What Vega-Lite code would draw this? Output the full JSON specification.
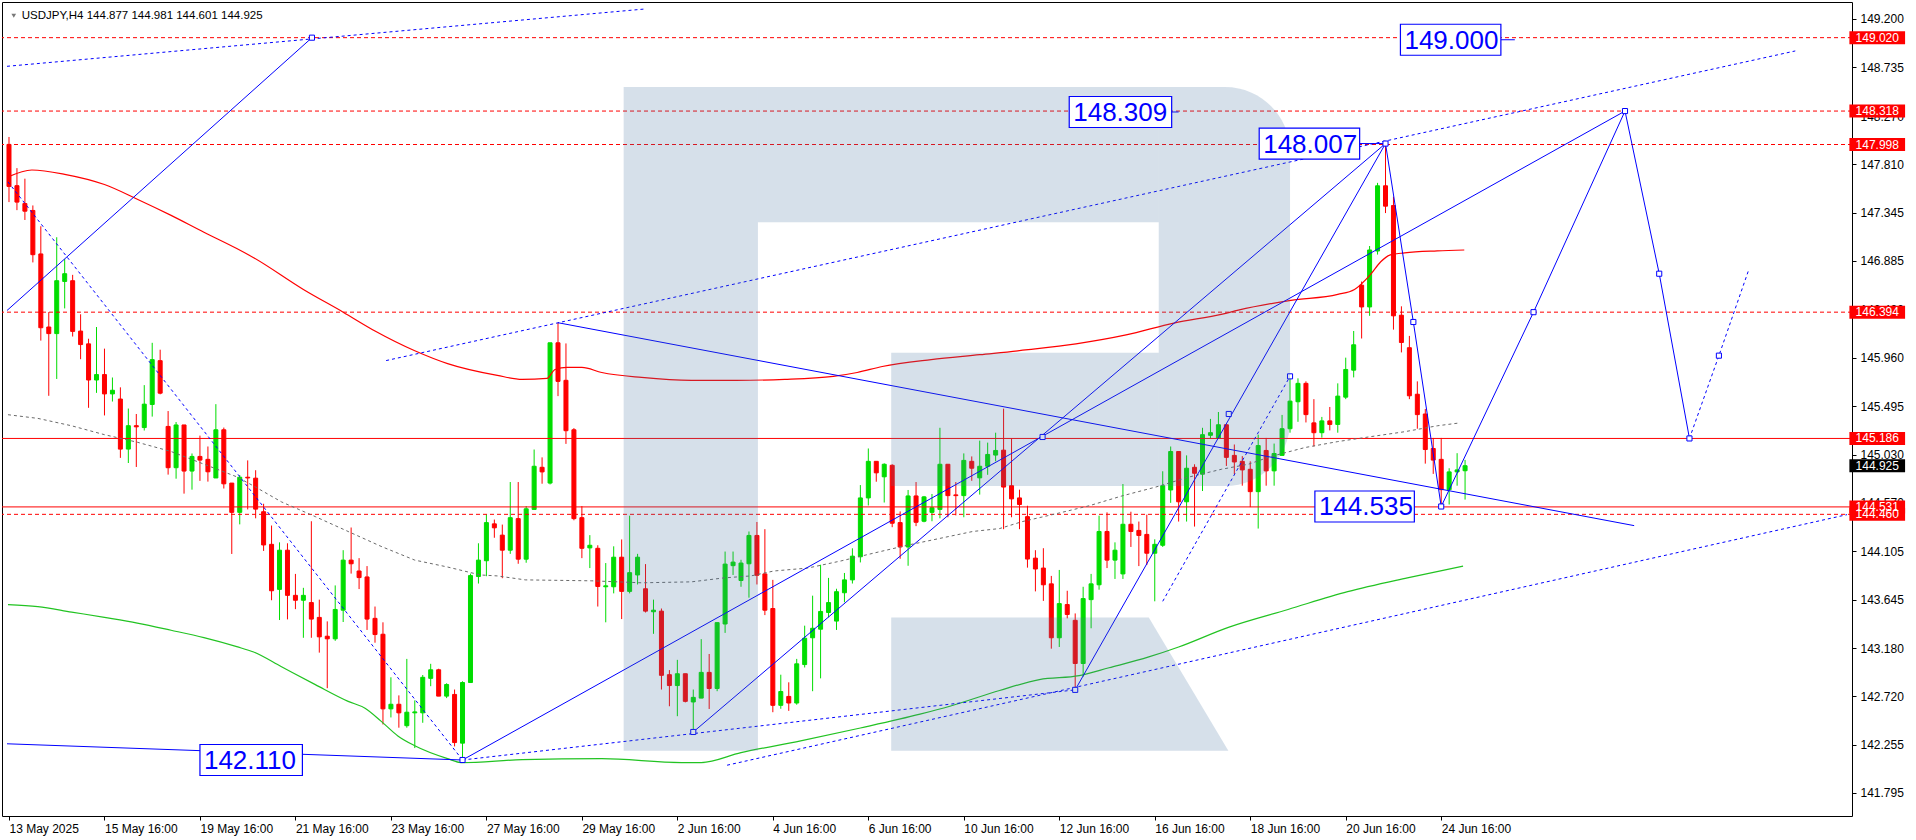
{
"$schema":"https://vega.github.io/schema/vega-lite/v6.json",
"width":1850,"height":814,
"autosize":{"type":"none"},
"padding":{"left":2,"top":2,"right":64,"bottom":24},
"background":"white",
"config":{"view":{"stroke":"#000000","strokeWidth":1},"font":"Liberation Sans",
"axis":{"grid":false,"domain":false,"ticks":true,"tickSize":4,"tickColor":"#000000","labelColor":"#000000","labelFont":"Liberation Sans","labelFontSize":12,"labelOverlap":false,"labelFlush":false,"labelBound":false}},
"datasets":{
"c":[
{"t":0,"o":147.999,"h":148.07,"l":147.447,"c":147.597},
{"t":1,"o":147.604,"h":147.772,"l":147.37,"c":147.447},
{"t":2,"o":147.433,"h":147.671,"l":147.276,"c":147.36},
{"t":3,"o":147.367,"h":147.415,"l":146.87,"c":146.944},
{"t":4,"o":146.951,"h":147.216,"l":146.122,"c":146.245},
{"t":5,"o":146.252,"h":146.395,"l":145.594,"c":146.189},
{"t":6,"o":146.189,"h":147.111,"l":145.755,"c":146.695},
{"t":7,"o":146.688,"h":146.902,"l":146.43,"c":146.762},
{"t":8,"o":146.695,"h":146.751,"l":146.161,"c":146.21},
{"t":9,"o":146.213,"h":146.374,"l":145.944,"c":146.084},
{"t":10,"o":146.091,"h":146.14,"l":145.479,"c":145.745},
{"t":11,"o":145.745,"h":146.252,"l":145.622,"c":145.797},
{"t":12,"o":145.797,"h":146.045,"l":145.406,"c":145.612},
{"t":13,"o":145.612,"h":145.769,"l":145.539,"c":145.647},
{"t":14,"o":145.563,"h":145.675,"l":145.0,"c":145.084},
{"t":15,"o":145.084,"h":145.472,"l":144.951,"c":145.308},
{"t":16,"o":145.308,"h":145.42,"l":144.913,"c":145.297},
{"t":17,"o":145.29,"h":145.696,"l":145.262,"c":145.514},
{"t":18,"o":145.511,"h":146.101,"l":145.395,"c":145.94},
{"t":19,"o":145.93,"h":146.035,"l":145.608,"c":145.619},
{"t":20,"o":145.301,"h":145.448,"l":144.84,"c":144.906},
{"t":21,"o":144.906,"h":145.343,"l":144.801,"c":145.315},
{"t":22,"o":145.315,"h":145.315,"l":144.658,"c":144.874},
{"t":23,"o":144.874,"h":145.042,"l":144.696,"c":145.014},
{"t":24,"o":145.014,"h":145.213,"l":144.78,"c":144.979},
{"t":25,"o":144.986,"h":145.109,"l":144.773,"c":144.867},
{"t":26,"o":144.808,"h":145.514,"l":144.808,"c":145.269},
{"t":27,"o":145.269,"h":145.29,"l":144.707,"c":144.752},
{"t":28,"o":144.759,"h":144.759,"l":144.081,"c":144.479},
{"t":29,"o":144.479,"h":144.836,"l":144.364,"c":144.815},
{"t":30,"o":144.815,"h":144.976,"l":144.507,"c":144.808},
{"t":31,"o":144.806,"h":144.882,"l":144.422,"c":144.51},
{"t":32,"o":144.485,"h":144.561,"l":144.11,"c":144.167},
{"t":33,"o":144.173,"h":144.353,"l":143.638,"c":143.729},
{"t":34,"o":143.742,"h":144.192,"l":143.449,"c":144.117},
{"t":35,"o":144.117,"h":144.183,"l":143.455,"c":143.685},
{"t":36,"o":143.685,"h":143.89,"l":143.553,"c":143.638},
{"t":37,"o":143.638,"h":143.757,"l":143.279,"c":143.685},
{"t":38,"o":143.616,"h":144.394,"l":143.279,"c":143.458},
{"t":39,"o":143.474,"h":143.644,"l":143.137,"c":143.288},
{"t":40,"o":143.294,"h":143.436,"l":142.797,"c":143.269},
{"t":41,"o":143.269,"h":143.78,"l":143.25,"c":143.55},
{"t":42,"o":143.543,"h":144.117,"l":143.43,"c":144.022},
{"t":43,"o":144.022,"h":144.334,"l":143.893,"c":143.987},
{"t":44,"o":143.918,"h":144.041,"l":143.745,"c":143.855},
{"t":45,"o":143.861,"h":143.965,"l":143.354,"c":143.458},
{"t":46,"o":143.465,"h":143.578,"l":143.232,"c":143.31},
{"t":47,"o":143.313,"h":143.427,"l":142.45,"c":142.599},
{"t":48,"o":142.599,"h":142.901,"l":142.517,"c":142.643},
{"t":49,"o":142.643,"h":142.728,"l":142.419,"c":142.561},
{"t":50,"o":142.438,"h":143.077,"l":142.419,"c":142.567},
{"t":51,"o":142.561,"h":142.68,"l":142.224,"c":142.57},
{"t":52,"o":142.561,"h":142.923,"l":142.466,"c":142.901},
{"t":53,"o":142.891,"h":143.03,"l":142.816,"c":142.973},
{"t":54,"o":142.973,"h":142.983,"l":142.721,"c":142.721},
{"t":55,"o":142.721,"h":142.844,"l":142.702,"c":142.832},
{"t":56,"o":142.737,"h":142.784,"l":142.24,"c":142.277},
{"t":57,"o":142.271,"h":142.863,"l":142.11,"c":142.851},
{"t":58,"o":142.851,"h":143.893,"l":142.851,"c":143.874},
{"t":59,"o":143.865,"h":144.183,"l":143.798,"c":144.022},
{"t":60,"o":144.016,"h":144.46,"l":143.868,"c":144.381},
{"t":61,"o":144.369,"h":144.41,"l":144.236,"c":144.331},
{"t":62,"o":144.261,"h":144.362,"l":143.849,"c":144.117},
{"t":63,"o":144.117,"h":144.769,"l":144.082,"c":144.428},
{"t":64,"o":144.419,"h":144.769,"l":143.987,"c":144.031},
{"t":65,"o":144.031,"h":144.539,"l":143.997,"c":144.513},
{"t":66,"o":144.507,"h":145.08,"l":144.507,"c":144.92},
{"t":67,"o":144.91,"h":145.005,"l":144.753,"c":144.866},
{"t":68,"o":144.759,"h":146.101,"l":144.746,"c":146.101},
{"t":69,"o":146.101,"h":146.293,"l":145.591,"c":145.732},
{"t":70,"o":145.742,"h":146.095,"l":145.134,"c":145.26},
{"t":71,"o":145.269,"h":145.285,"l":144.403,"c":144.419},
{"t":72,"o":144.428,"h":144.539,"l":144.041,"c":144.135},
{"t":73,"o":144.139,"h":144.261,"l":143.946,"c":144.164},
{"t":74,"o":144.135,"h":144.164,"l":143.578,"c":143.77},
{"t":75,"o":143.767,"h":143.994,"l":143.427,"c":143.776},
{"t":76,"o":143.767,"h":144.154,"l":143.704,"c":144.05},
{"t":77,"o":144.05,"h":144.22,"l":143.458,"c":143.723},
{"t":78,"o":143.723,"h":144.447,"l":143.704,"c":143.902},
{"t":79,"o":143.88,"h":144.082,"l":143.789,"c":144.05},
{"t":80,"o":143.748,"h":143.984,"l":143.521,"c":143.534},
{"t":81,"o":143.528,"h":143.644,"l":143.317,"c":143.543},
{"t":82,"o":143.534,"h":143.559,"l":142.784,"c":142.92},
{"t":83,"o":142.926,"h":142.97,"l":142.624,"c":142.822},
{"t":84,"o":142.822,"h":143.068,"l":142.529,"c":142.935},
{"t":85,"o":142.935,"h":142.935,"l":142.661,"c":142.671},
{"t":86,"o":142.665,"h":142.784,"l":142.378,"c":142.709},
{"t":87,"o":142.702,"h":143.266,"l":142.702,"c":142.948},
{"t":88,"o":142.948,"h":143.124,"l":142.598,"c":142.794},
{"t":89,"o":142.794,"h":143.424,"l":142.768,"c":143.424},
{"t":90,"o":143.411,"h":144.104,"l":143.326,"c":143.984},
{"t":91,"o":143.969,"h":144.104,"l":143.88,"c":144.003},
{"t":92,"o":143.827,"h":144.025,"l":143.767,"c":143.994},
{"t":93,"o":143.987,"h":144.296,"l":143.663,"c":144.258},
{"t":94,"o":144.258,"h":144.387,"l":143.789,"c":143.877},
{"t":95,"o":143.89,"h":144.318,"l":143.496,"c":143.543},
{"t":96,"o":143.559,"h":143.833,"l":142.567,"c":142.633},
{"t":97,"o":142.633,"h":142.926,"l":142.6,"c":142.765},
{"t":98,"o":142.718,"h":142.853,"l":142.58,"c":142.655},
{"t":99,"o":142.655,"h":143.077,"l":142.639,"c":143.03},
{"t":100,"o":143.023,"h":143.395,"l":142.995,"c":143.275},
{"t":101,"o":143.279,"h":143.682,"l":142.768,"c":143.37},
{"t":102,"o":143.361,"h":143.978,"l":142.891,"c":143.531},
{"t":103,"o":143.521,"h":143.852,"l":143.474,"c":143.616},
{"t":104,"o":143.439,"h":143.748,"l":143.354,"c":143.72},
{"t":105,"o":143.71,"h":143.899,"l":143.619,"c":143.833},
{"t":106,"o":143.833,"h":144.135,"l":143.798,"c":144.06},
{"t":107,"o":144.054,"h":144.74,"l":144.0,"c":144.617},
{"t":108,"o":144.617,"h":145.09,"l":144.545,"c":144.967},
{"t":109,"o":144.967,"h":144.967,"l":144.772,"c":144.857},
{"t":110,"o":144.819,"h":144.948,"l":144.573,"c":144.939},
{"t":111,"o":144.929,"h":144.939,"l":144.337,"c":144.375},
{"t":112,"o":144.381,"h":144.488,"l":144.035,"c":144.148},
{"t":113,"o":144.148,"h":144.693,"l":143.968,"c":144.636},
{"t":114,"o":144.636,"h":144.769,"l":144.347,"c":144.384},
{"t":115,"o":144.394,"h":144.636,"l":144.384,"c":144.627},
{"t":116,"o":144.479,"h":144.655,"l":144.394,"c":144.523},
{"t":117,"o":144.507,"h":145.288,"l":144.422,"c":144.939},
{"t":118,"o":144.939,"h":144.939,"l":144.432,"c":144.639},
{"t":119,"o":144.646,"h":144.769,"l":144.45,"c":144.639},
{"t":120,"o":144.639,"h":145.043,"l":144.432,"c":144.976},
{"t":121,"o":144.967,"h":145.014,"l":144.781,"c":144.901},
{"t":122,"o":144.809,"h":145.165,"l":144.649,"c":144.92},
{"t":123,"o":144.92,"h":145.146,"l":144.838,"c":145.033},
{"t":124,"o":145.027,"h":145.241,"l":144.967,"c":145.071},
{"t":125,"o":145.074,"h":145.471,"l":144.318,"c":144.721},
{"t":126,"o":144.734,"h":145.187,"l":144.432,"c":144.608},
{"t":127,"o":144.617,"h":144.696,"l":144.318,"c":144.554},
{"t":128,"o":144.438,"h":144.542,"l":143.95,"c":144.032},
{"t":129,"o":144.041,"h":144.117,"l":143.723,"c":143.937},
{"t":130,"o":143.946,"h":144.136,"l":143.632,"c":143.786},
{"t":131,"o":143.795,"h":143.871,"l":143.175,"c":143.279},
{"t":132,"o":143.279,"h":143.928,"l":143.191,"c":143.606},
{"t":133,"o":143.597,"h":143.729,"l":143.465,"c":143.502},
{"t":134,"o":143.446,"h":143.512,"l":142.781,"c":143.033},
{"t":135,"o":143.033,"h":143.767,"l":142.907,"c":143.654},
{"t":136,"o":143.644,"h":143.89,"l":143.37,"c":143.795},
{"t":137,"o":143.786,"h":144.447,"l":143.739,"c":144.296},
{"t":138,"o":144.296,"h":144.479,"l":143.946,"c":144.022},
{"t":139,"o":144.022,"h":144.192,"l":143.842,"c":144.117},
{"t":140,"o":143.89,"h":144.75,"l":143.842,"c":144.365},
{"t":141,"o":144.365,"h":144.485,"l":144.148,"c":144.296},
{"t":142,"o":144.306,"h":144.391,"l":143.965,"c":144.258},
{"t":143,"o":144.268,"h":144.457,"l":143.975,"c":144.088},
{"t":144,"o":144.088,"h":144.221,"l":143.628,"c":144.173},
{"t":145,"o":144.164,"h":144.872,"l":144.148,"c":144.734},
{"t":146,"o":144.693,"h":145.109,"l":144.57,"c":145.061},
{"t":147,"o":145.061,"h":145.061,"l":144.391,"c":144.58},
{"t":148,"o":144.58,"h":145.024,"l":144.391,"c":144.901},
{"t":149,"o":144.91,"h":144.939,"l":144.343,"c":144.853},
{"t":150,"o":144.844,"h":145.288,"l":144.683,"c":145.222},
{"t":151,"o":145.216,"h":145.373,"l":145.184,"c":145.241},
{"t":152,"o":145.187,"h":145.439,"l":145.187,"c":145.317},
{"t":153,"o":145.317,"h":145.317,"l":144.923,"c":145.005},
{"t":154,"o":145.024,"h":145.128,"l":144.844,"c":144.961},
{"t":155,"o":144.967,"h":145.017,"l":144.734,"c":144.885},
{"t":156,"o":144.891,"h":144.967,"l":144.529,"c":144.677},
{"t":157,"o":144.677,"h":145.222,"l":144.324,"c":145.118},
{"t":158,"o":145.071,"h":145.191,"l":144.734,"c":144.876},
{"t":159,"o":144.876,"h":145.137,"l":144.734,"c":145.042},
{"t":160,"o":145.024,"h":145.411,"l":145.024,"c":145.279},
{"t":161,"o":145.279,"h":145.78,"l":145.241,"c":145.543},
{"t":162,"o":145.537,"h":145.761,"l":145.345,"c":145.713},
{"t":163,"o":145.713,"h":145.732,"l":145.339,"c":145.414},
{"t":164,"o":145.335,"h":145.562,"l":145.109,"c":145.241},
{"t":165,"o":145.241,"h":145.392,"l":145.194,"c":145.354},
{"t":166,"o":145.354,"h":145.487,"l":145.263,"c":145.32},
{"t":167,"o":145.32,"h":145.713,"l":145.241,"c":145.591},
{"t":168,"o":145.581,"h":145.959,"l":145.562,"c":145.846},
{"t":169,"o":145.839,"h":146.214,"l":145.77,"c":146.082},
{"t":170,"o":146.652,"h":146.687,"l":146.142,"c":146.444},
{"t":171,"o":146.444,"h":147.027,"l":146.359,"c":146.989},
{"t":172,"o":146.979,"h":147.631,"l":146.945,"c":147.603},
{"t":173,"o":147.603,"h":148.007,"l":147.342,"c":147.408},
{"t":174,"o":147.414,"h":147.499,"l":146.227,"c":146.359},
{"t":175,"o":146.365,"h":146.45,"l":146.009,"c":146.104},
{"t":176,"o":146.054,"h":146.167,"l":145.562,"c":145.594},
{"t":177,"o":145.609,"h":145.732,"l":145.279,"c":145.414},
{"t":178,"o":145.42,"h":145.468,"l":144.945,"c":145.08},
{"t":179,"o":145.09,"h":145.191,"l":144.847,"c":144.979},
{"t":180,"o":144.986,"h":145.191,"l":144.535,"c":144.696},
{"t":181,"o":144.696,"h":144.901,"l":144.554,"c":144.866},
{"t":182,"o":144.866,"h":145.045,"l":144.734,"c":144.885},
{"t":183,"o":144.877,"h":144.981,"l":144.601,"c":144.925}
],
"r":[
{"t":-0.125,"p":147.688},{"t":2.875,"p":147.754},{"t":7,"p":147.713},{"t":12,"p":147.615},{"t":16.125,"p":147.475},{"t":20.375,"p":147.32},{"t":24.5,"p":147.159},{"t":28.625,"p":147.003},{"t":30.75,"p":146.915},{"t":37,"p":146.611},{"t":42,"p":146.394},{"t":46,"p":146.214},{"t":51,"p":146.025},{"t":55.125,"p":145.902},{"t":61.375,"p":145.789},{"t":64.5,"p":145.751},{"t":67.625,"p":145.761},{"t":68.625,"p":145.846},{"t":70.125,"p":145.865},{"t":72,"p":145.865},{"t":74.5,"p":145.817},{"t":79.5,"p":145.77},{"t":85.75,"p":145.742},{"t":91.375,"p":145.742},{"t":97.5,"p":145.751},{"t":103.6,"p":145.78},{"t":106.6,"p":145.817},{"t":109.75,"p":145.874},{"t":115.9,"p":145.94},{"t":122,"p":145.987},{"t":128.1,"p":146.035},{"t":134.1,"p":146.091},{"t":140.4,"p":146.176},{"t":146.4,"p":146.29},{"t":152.5,"p":146.375},{"t":154.5,"p":146.413},{"t":161.1,"p":146.507},{"t":167,"p":146.564},{"t":169.1,"p":146.611},{"t":171.1,"p":146.753},{"t":172.4,"p":146.876},{"t":173.6,"p":146.942},{"t":175.4,"p":146.961},{"t":179.5,"p":146.98},{"t":182.9,"p":146.989}
],
"g":[
{"t":-0.125,"p":143.597},{"t":3.625,"p":143.578},{"t":7.875,"p":143.525},{"t":12,"p":143.474},{"t":16.125,"p":143.42},{"t":20.375,"p":143.351},{"t":24.5,"p":143.28},{"t":28.625,"p":143.194},{"t":30.75,"p":143.143},{"t":34.25,"p":143.002},{"t":38.5,"p":142.831},{"t":42.625,"p":142.671},{"t":44.75,"p":142.605},{"t":46.75,"p":142.482},{"t":48.875,"p":142.34},{"t":51,"p":142.246},{"t":55.125,"p":142.123},{"t":56.875,"p":142.085},{"t":64.5,"p":142.113},{"t":74.5,"p":142.123},{"t":84.5,"p":142.085},{"t":87,"p":142.085},{"t":92,"p":142.18},{"t":99.5,"p":142.293},{"t":107,"p":142.416},{"t":114.5,"p":142.548},{"t":118.25,"p":142.624},{"t":124.5,"p":142.775},{"t":129.5,"p":142.879},{"t":134.5,"p":142.917},{"t":138.25,"p":142.992},{"t":143.25,"p":143.096},{"t":147,"p":143.191},{"t":153.25,"p":143.379},{"t":160.75,"p":143.55},{"t":168.25,"p":143.72},{"t":175.75,"p":143.852},{"t":182.75,"p":143.965}
],
"k":[
{"t":-0.125,"p":145.413},{"t":3.625,"p":145.378},{"t":7.875,"p":145.307},{"t":12,"p":145.222},{"t":16.125,"p":145.15},{"t":20.375,"p":145.061},{"t":24.5,"p":144.94},{"t":28.625,"p":144.819},{"t":30.75,"p":144.731},{"t":34.25,"p":144.579},{"t":38.5,"p":144.438},{"t":42.625,"p":144.296},{"t":46.75,"p":144.154},{"t":51,"p":144.022},{"t":55.125,"p":143.956},{"t":59.25,"p":143.88},{"t":61.375,"p":143.871},{"t":64.875,"p":143.833},{"t":73.25,"p":143.824},{"t":79.5,"p":143.805},{"t":85.75,"p":143.814},{"t":89.875,"p":143.852},{"t":93.25,"p":143.871},{"t":96.125,"p":143.918},{"t":100.375,"p":143.946},{"t":104.5,"p":144.013},{"t":108.625,"p":144.088},{"t":112.875,"p":144.164},{"t":117,"p":144.23},{"t":121.125,"p":144.296},{"t":124.5,"p":144.324},{"t":127.375,"p":144.391},{"t":131.625,"p":144.466},{"t":135.75,"p":144.542},{"t":139.875,"p":144.636},{"t":144.125,"p":144.721},{"t":148.25,"p":144.816},{"t":152.375,"p":144.891},{"t":155.75,"p":144.939},{"t":158.625,"p":145.014},{"t":162.875,"p":145.099},{"t":167,"p":145.156},{"t":171.125,"p":145.203},{"t":175.375,"p":145.25},{"t":179.5,"p":145.307},{"t":182.375,"p":145.335}
],
"h":[
{"p":149.02,"d":1},{"p":148.318,"d":1},{"p":147.998,"d":1},{"p":146.394,"d":1},{"p":144.46,"d":1},{"p":145.186,"d":0},{"p":144.531,"d":0}
],
"b":[
{"g":1,"d":0,"t":-0.25,"p":146.41},{"g":1,"d":0,"t":38.075,"p":149.02},
{"g":2,"d":1,"t":-0.25,"p":148.746},{"g":2,"d":1,"t":79.875,"p":149.294},
{"g":3,"d":1,"t":-0.125,"p":147.64},{"g":3,"d":1,"t":57,"p":142.11},
{"g":4,"d":0,"t":-0.25,"p":142.265},{"g":4,"d":0,"t":57,"p":142.11},
{"g":5,"d":0,"t":57,"p":142.11},{"g":5,"d":0,"t":203.1,"p":148.318},
{"g":6,"d":0,"t":86,"p":142.378},{"g":6,"d":0,"t":173,"p":148.007},
{"g":7,"d":1,"t":57,"p":142.11},{"g":7,"d":1,"t":134,"p":142.781},
{"g":8,"d":0,"t":134,"p":142.781},{"g":8,"d":0,"t":173,"p":148.007},
{"g":9,"d":0,"t":69,"p":146.293},{"g":9,"d":0,"t":204.25,"p":144.352},
{"g":10,"d":1,"t":47.4,"p":145.931},{"g":10,"d":1,"t":224.5,"p":148.893},
{"g":11,"d":1,"t":90.25,"p":142.06},{"g":11,"d":1,"t":231,"p":144.457},
{"g":12,"d":1,"t":145,"p":143.628},{"g":12,"d":1,"t":161,"p":145.78},
{"g":13,"d":0,"t":173,"p":148.007},{"g":13,"d":0,"t":176.5,"p":146.3},{"g":13,"d":0,"t":180,"p":144.535},{"g":13,"d":0,"t":191.6,"p":146.394},{"g":13,"d":0,"t":203.1,"p":148.318},{"g":13,"d":0,"t":207.4,"p":146.762},{"g":13,"d":0,"t":211.2,"p":145.186},
{"g":14,"d":1,"t":211.2,"p":145.186},{"g":14,"d":1,"t":214.9,"p":145.978},{"g":14,"d":1,"t":218.7,"p":146.81},
{"g":15,"d":0,"t":187.5,"p":149.0},{"g":15,"d":0,"t":189.25,"p":149.0},
{"g":16,"d":0,"t":146.125,"p":148.309},{"g":16,"d":0,"t":147,"p":148.309},
{"g":17,"d":0,"t":169.75,"p":148.007},{"g":17,"d":0,"t":173,"p":148.007}
],
"m":[
{"t":57,"p":142.11},{"t":38.075,"p":149.02},{"t":86,"p":142.378},{"t":129.9,"p":145.2},{"t":134,"p":142.781},{"t":153.3,"p":145.42},{"t":161,"p":145.78},{"t":173,"p":148.007},{"t":176.5,"p":146.3},{"t":180,"p":144.535},{"t":191.6,"p":146.394},{"t":203.1,"p":148.318},{"t":207.4,"p":146.762},{"t":211.2,"p":145.186},{"t":214.9,"p":145.978}
],
"lb":[
{"txt":"149.000","v":149.0,"t1":174.875,"t2":187.5},
{"txt":"148.309","v":148.309,"t1":133.25,"t2":146.125},
{"txt":"148.007","v":148.007,"t1":157.125,"t2":169.75},
{"txt":"144.535","v":144.535,"t1":164.125,"t2":176.625},
{"txt":"142.110","v":142.11,"t1":24,"t2":36.875}
],
"ax":[
{"p":149.02,"k":"level"},{"p":148.318,"k":"level"},{"p":147.998,"k":"level"},{"p":146.394,"k":"level"},{"p":145.186,"k":"level"},{"p":144.925,"k":"bid"},{"p":144.46,"k":"level"},{"p":144.531,"k":"level"}
],
"R":[
{"x1":77.25,"x2":94.125,"y1":148.548,"y2":142.199,"r":0},
{"x1":94.125,"x2":144.5,"y1":148.548,"y2":147.254,"r":0},
{"x1":110.875,"x2":144.5,"y1":146.006,"y2":144.731,"r":0},
{"x1":144.5,"x2":161,"y1":148.548,"y2":144.731,"r":1}
],
"leg":[
{"t":110.875,"a":143.474,"b":142.199},{"t":143.25,"a":143.474,"b":142.199},{"t":153.25,"a":142.199,"b":142.199}
]
},
"layer":[
{
"data":{"name":"c"},
"mark":{"type":"rule","strokeWidth":1},
"encoding":{
"x":{"field":"t","type":"quantitative","title":null,"scale":{"domain":[-0.25,231],"nice":false,"zero":false},
"axis":{"values":[0,12,24,36,48,60,72,84,96,108,120,132,144,156,168,180],
"labelExpr":"['13 May 2025','15 May 16:00','19 May 16:00','21 May 16:00','23 May 16:00','27 May 16:00','29 May 16:00','2 Jun 16:00','4 Jun 16:00','6 Jun 16:00','10 Jun 16:00','12 Jun 16:00','16 Jun 16:00','18 Jun 16:00','20 Jun 16:00','24 Jun 16:00'][round(datum.value/12)]",
"title":null,"orient":"bottom","labelAlign":"left","labelBaseline":"top","labelPadding":3}},
"y":{"field":"l","type":"quantitative","title":null,"scale":{"domain":[141.622,149.3134],"nice":false,"zero":false},
"axis":{"orient":"right","title":null,"values":[141.795,142.255,142.72,143.18,143.645,144.105,144.57,145.03,145.495,145.96,146.42,146.885,147.345,147.81,148.27,148.735,149.2],"format":".3f","labelAlign":"left","labelBaseline":"middle","labelPadding":4}},
"y2":{"field":"h"},
"color":{"condition":{"test":"datum.c >= datum.o","value":"#00dd00"},"value":"#ff0000"}
}
},
{
"data":{"name":"c"},
"mark":{"type":"bar","width":4,"strokeWidth":1},
"encoding":{
"x":{"field":"t","type":"quantitative","title":null,"scale":{"domain":[-0.25,231],"nice":false,"zero":false}},
"y":{"field":"o","type":"quantitative","title":null,"scale":{"domain":[141.622,149.3134],"nice":false,"zero":false}},
"y2":{"field":"c"},
"color":{"condition":{"test":"datum.c >= datum.o","value":"#00dd00"},"value":"#ff0000"},
"stroke":{"condition":{"test":"datum.c >= datum.o","value":"#00dd00"},"value":"#ff0000"}
}
},
{
"data":{"name":"h"},
"transform":[{"filter":"datum.d == 1"}],
"mark":{"type":"rule","color":"#ff0000","strokeWidth":1,"strokeDash":[4,3]},
"encoding":{"y":{"field":"p","type":"quantitative","title":null,"scale":{"domain":[141.622,149.3134],"nice":false,"zero":false}}}
},
{
"data":{"name":"h"},
"transform":[{"filter":"datum.d == 0"}],
"mark":{"type":"rule","color":"#ff0000","strokeWidth":1},
"encoding":{"y":{"field":"p","type":"quantitative","title":null,"scale":{"domain":[141.622,149.3134],"nice":false,"zero":false}}}
},
{
"data":{"name":"k"},
"mark":{"type":"line","color":"#6a6a6a","strokeWidth":1,"strokeDash":[3,3]},
"encoding":{
"x":{"field":"t","type":"quantitative","title":null,"scale":{"domain":[-0.25,231],"nice":false,"zero":false}},
"y":{"field":"p","type":"quantitative","title":null,"scale":{"domain":[141.622,149.3134],"nice":false,"zero":false}}}
},
{
"data":{"name":"g"},
"mark":{"type":"line","color":"#22c322","strokeWidth":1.2,"interpolate":"monotone"},
"encoding":{
"x":{"field":"t","type":"quantitative","title":null,"scale":{"domain":[-0.25,231],"nice":false,"zero":false}},
"y":{"field":"p","type":"quantitative","title":null,"scale":{"domain":[141.622,149.3134],"nice":false,"zero":false}}}
},
{
"data":{"name":"r"},
"mark":{"type":"line","color":"#ff0000","strokeWidth":1.2,"interpolate":"monotone"},
"encoding":{
"x":{"field":"t","type":"quantitative","title":null,"scale":{"domain":[-0.25,231],"nice":false,"zero":false}},
"y":{"field":"p","type":"quantitative","title":null,"scale":{"domain":[141.622,149.3134],"nice":false,"zero":false}}}
},
{
"data":{"name":"b"},
"transform":[{"filter":"datum.d == 0"}],
"mark":{"type":"line","color":"#0000ff","strokeWidth":1},
"encoding":{
"x":{"field":"t","type":"quantitative","title":null,"scale":{"domain":[-0.25,231],"nice":false,"zero":false}},
"y":{"field":"p","type":"quantitative","title":null,"scale":{"domain":[141.622,149.3134],"nice":false,"zero":false}},
"detail":{"field":"g","type":"nominal"}}
},
{
"data":{"name":"b"},
"transform":[{"filter":"datum.d == 1"}],
"mark":{"type":"line","color":"#0000ff","strokeWidth":1,"strokeDash":[3,3]},
"encoding":{
"x":{"field":"t","type":"quantitative","title":null,"scale":{"domain":[-0.25,231],"nice":false,"zero":false}},
"y":{"field":"p","type":"quantitative","title":null,"scale":{"domain":[141.622,149.3134],"nice":false,"zero":false}},
"detail":{"field":"g","type":"nominal"}}
},
{
"data":{"name":"m"},
"mark":{"type":"point","shape":"square","size":26,"filled":false,"fill":"white","fillOpacity":1,"stroke":"#0000ff","strokeWidth":1,"opacity":1},
"encoding":{
"x":{"field":"t","type":"quantitative","title":null,"scale":{"domain":[-0.25,231],"nice":false,"zero":false}},
"y":{"field":"p","type":"quantitative","title":null,"scale":{"domain":[141.622,149.3134],"nice":false,"zero":false}}}
},
{
"data":{"name":"R"},
"transform":[{"filter":"datum.r == 0"}],
"mark":{"type":"rect","color":"#44709f","opacity":0.22},
"encoding":{
"x":{"field":"x1","type":"quantitative","title":null,"scale":{"domain":[-0.25,231],"nice":false,"zero":false}},
"x2":{"field":"x2"},
"y":{"field":"y1","type":"quantitative","title":null,"scale":{"domain":[141.622,149.3134],"nice":false,"zero":false}},
"y2":{"field":"y2"}}
},
{
"data":{"name":"R"},
"transform":[{"filter":"datum.r == 1"}],
"mark":{"type":"rect","color":"#44709f","opacity":0.22,"cornerRadiusTopRight":65,"cornerRadiusBottomRight":65},
"encoding":{
"x":{"field":"x1","type":"quantitative","title":null,"scale":{"domain":[-0.25,231],"nice":false,"zero":false}},
"x2":{"field":"x2"},
"y":{"field":"y1","type":"quantitative","title":null,"scale":{"domain":[141.622,149.3134],"nice":false,"zero":false}},
"y2":{"field":"y2"}}
},
{
"data":{"name":"leg"},
"mark":{"type":"area","color":"#44709f","opacity":0.22,"orient":"vertical"},
"encoding":{
"x":{"field":"t","type":"quantitative","title":null,"scale":{"domain":[-0.25,231],"nice":false,"zero":false}},
"y":{"field":"a","type":"quantitative","title":null,"scale":{"domain":[141.622,149.3134],"nice":false,"zero":false}},
"y2":{"field":"b"}}
},
{
"data":{"name":"lb"},
"mark":{"type":"bar","orient":"horizontal","size":31,"fill":"white","stroke":"#0000ff","strokeWidth":1.2},
"encoding":{
"x":{"field":"t1","type":"quantitative","title":null,"scale":{"domain":[-0.25,231],"nice":false,"zero":false}},
"x2":{"field":"t2"},
"y":{"field":"v","type":"quantitative","title":null,"scale":{"domain":[141.622,149.3134],"nice":false,"zero":false}}}
},
{
"data":{"name":"lb"},
"mark":{"type":"text","align":"left","baseline":"middle","dx":4,"dy":1,"font":"Liberation Sans","fontSize":26,"color":"#0000ff"},
"encoding":{
"x":{"field":"t1","type":"quantitative","title":null,"scale":{"domain":[-0.25,231],"nice":false,"zero":false}},
"y":{"field":"v","type":"quantitative","title":null,"scale":{"domain":[141.622,149.3134],"nice":false,"zero":false}},
"text":{"field":"txt","type":"nominal"}}
},
{
"data":{"name":"ax"},
"mark":{"type":"bar","orient":"horizontal","size":13},
"encoding":{
"x":{"datum":231.3,"type":"quantitative","title":null,"scale":{"domain":[-0.25,231],"nice":false,"zero":false}},
"x2":{"datum":238.3},
"y":{"field":"p","type":"quantitative","title":null,"scale":{"domain":[141.622,149.3134],"nice":false,"zero":false}},
"color":{"condition":{"test":"datum.k == 'bid'","value":"#000000"},"value":"#ff0000"}}
},
{
"data":{"name":"ax"},
"mark":{"type":"text","align":"center","baseline":"middle","font":"Liberation Sans","fontSize":12,"color":"#ffffff"},
"encoding":{
"x":{"datum":234.8,"type":"quantitative","title":null,"scale":{"domain":[-0.25,231],"nice":false,"zero":false}},
"y":{"field":"p","type":"quantitative","title":null,"scale":{"domain":[141.622,149.3134],"nice":false,"zero":false}},
"text":{"field":"p","type":"quantitative","format":".3f"}}
},
{
"data":{"values":[{"s":"USDJPY,H4  144.877 144.981 144.601 144.925"}]},
"mark":{"type":"text","align":"left","baseline":"middle","font":"Liberation Sans","fontSize":11.5,"color":"#000000"},
"encoding":{
"x":{"datum":1.6,"type":"quantitative","title":null,"scale":{"domain":[-0.25,231],"nice":false,"zero":false}},
"y":{"datum":149.228,"type":"quantitative","title":null,"scale":{"domain":[141.622,149.3134],"nice":false,"zero":false}},
"text":{"field":"s","type":"nominal"}}
},
{
"data":{"values":[{"s":"icon"}]},
"mark":{"type":"point","shape":"triangle-down","size":22,"filled":true,"color":"#404040"},
"encoding":{
"x":{"datum":0.6,"type":"quantitative","title":null,"scale":{"domain":[-0.25,231],"nice":false,"zero":false}},
"y":{"datum":149.23,"type":"quantitative","title":null,"scale":{"domain":[141.622,149.3134],"nice":false,"zero":false}}}
}
]
}
